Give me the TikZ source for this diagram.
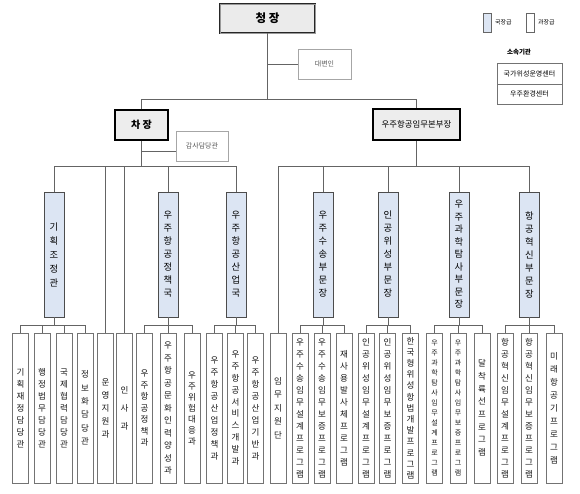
\documentclass[tikz,border=0pt]{standalone}
\usepackage{fontspec}
\setmainfont{Noto Sans CJK KR}
\usetikzlibrary{shadows}
\definecolor{barblue}{RGB}{220,229,243}
\definecolor{linegray}{RGB}{100,100,100}
\definecolor{boxgray}{RGB}{115,115,115}
\definecolor{txt}{RGB}{25,25,25}
\def\vstB#1#2\vstEnd{\hbox to 0pt{\hss#1\hss}\ifx\relax#2\relax\else\vstB#2\vstEnd\fi}
\newcommand\vst[2]{\vbox{\baselineskip=#1pt\lineskiplimit=-100pt\lineskip=0pt\vstB#2\vstEnd}}
\tikzset{
  ln/.style={draw=linegray, line width=0.7pt},
  shad/.style={drop shadow={shadow xshift=0.9pt, shadow yshift=-0.9pt, fill=black!40, opacity=1}},
  bar/.style={draw=black!70, fill=barblue, line width=0.7pt, minimum width=20pt, minimum height=125pt, inner sep=0pt, shad, font=\fontsize{9.3}{9.3}\selectfont, text=black},
  sub/.style={draw=boxgray, fill=white, line width=0.6pt, minimum width=16pt, minimum height=150pt, inner sep=0pt, shad, font=\fontsize{8.5}{8.5}\selectfont, text=txt},
  subs/.style={sub, font=\fontsize{7}{7}\selectfont},
  side/.style={draw=black!35, fill=white, line width=0.6pt, inner sep=0pt, text=black!65},
  head/.style={draw=black, fill=black!7, line width=1.3pt, inner sep=0pt, text=black},
}
\begin{document}
\begin{tikzpicture}[x=1pt, y=-1pt]
\useasboundingbox (0,0) rectangle (580,493);
% top level
\node[draw=black!85, fill=black!8, line width=0.9pt, double=black!40, double distance=0.8pt,
      minimum width=95pt, minimum height=29pt, inner sep=0pt, font=\fontsize{11.5}{11.5}\selectfont\bfseries] (ch) at (267.5,18.5) {청 장};
\node[side, minimum width=53pt, minimum height=30pt, font=\fontsize{7}{7}\selectfont] (dv) at (324.5,64) {대변인};
\node[head, minimum width=53pt, minimum height=30pt, font=\fontsize{10}{10}\selectfont\bfseries] (cj) at (141.5,125) {차 장};
\node[side, minimum width=52pt, minimum height=30pt, font=\fontsize{7}{7}\selectfont] (gs) at (202,146) {감사담당관};
\node[head, line width=1.1pt, minimum width=87pt, minimum height=31pt, font=\fontsize{8.4}{8.4}\selectfont] (hq) at (416.5,124.5) {우주항공임무본부장};
% legend
\node[draw=black!60, fill=barblue, line width=0.5pt, minimum width=8pt, minimum height=19pt, inner sep=0pt] (lg1) at (487,22.5) {};
\node[anchor=west, inner sep=0pt, font=\fontsize{6}{6}\selectfont] (lg1t) at (495,22.5) {국장급};
\node[draw=black!60, fill=white, line width=0.5pt, minimum width=8pt, minimum height=19pt, inner sep=0pt] (lg2) at (530,22.5) {};
\node[anchor=west, inner sep=0pt, font=\fontsize{6}{6}\selectfont] (lg2t) at (538,22.5) {과장급};
\node[inner sep=0pt, font=\fontsize{6.5}{6.5}\selectfont\bfseries] (sg) at (519,52) {소속기관};
\node[draw=black!55, line width=0.6pt, minimum width=65pt, minimum height=21pt, inner sep=0pt, font=\fontsize{7}{7}\selectfont] (o1) at (529.5,73.5) {국가위성운영센터};
\node[draw=black!55, line width=0.6pt, minimum width=65pt, minimum height=20pt, inner sep=0pt, font=\fontsize{7}{7}\selectfont] (o2) at (529.5,94) {우주환경센터};
% bars
\node[bar] (b1) at (54,254.5) {\vst{14}{기획조정관}};
\node[bar] (b2) at (168,254.5) {\vst{13}{우주항공정책국}};
\node[bar] (b3) at (236,254.5) {\vst{13}{우주항공산업국}};
\node[bar] (b4) at (323,254.5) {\vst{13}{우주수송부문장}};
\node[bar] (b5) at (388,254.5) {\vst{13}{인공위성부문장}};
\node[bar] (b6) at (459,254.5) {\vst{12.5}{우주과학탐사부문장}};
\node[bar] (b7) at (529.5,254.5) {\vst{13}{항공혁신부문장}};
% bottom boxes
\node[sub] (s1) at (20.5,408) {\vst{12}{기획재정담당관}};
\node[sub] (s2) at (42,408) {\vst{12}{행정법무담당관}};
\node[sub] (s3) at (64,408) {\vst{12}{국제협력담당관}};
\node[sub] (s4) at (85,408) {\vst{13.4}{정보화담당관}};
\node[sub] (s5) at (105.5,408) {\vst{13}{운영지원과}};
\node[sub] (s6) at (124.5,408) {\vst{18}{인사과}};
\node[sub] (s7) at (144.5,408) {\vst{11.5}{우주항공정책과}};
\node[sub] (s8) at (168,408) {\vst{12.5}{우주항공문화인력양성과}};
\node[sub] (s9) at (192,408) {\vst{11}{우주위험대응과}};
\node[sub] (s10) at (214.5,408) {\vst{12}{우주항공산업정책과}};
\node[sub] (s11) at (235.5,408) {\vst{11.9}{우주항공서비스개발과}};
\node[sub] (s12) at (255.5,408) {\vst{12}{우주항공산업기반과}};
\node[sub] (s13) at (278,408) {\vst{13.5}{임무지원단}};
\node[sub] (s14) at (300,408) {\vst{12}{우주수송임무설계프로그램}};
\node[sub] (s15) at (322,408) {\vst{12}{우주수송임무보증프로그램}};
\node[sub] (s16) at (344,408) {\vst{12}{재사용발사체프로그램}};
\node[sub] (s17) at (366,408) {\vst{12}{인공위성임무설계프로그램}};
\node[sub] (s18) at (387.5,408) {\vst{12}{인공위성임무보증프로그램}};
\node[sub] (s19) at (410.5,408) {\vst{11.2}{한국형위성항법개발프로그램}};
\node[subs] (s20) at (434.5,408) {\vst{10}{우주과학탐사임무설계프로그램}};
\node[subs] (s21) at (458,408) {\vst{10}{우주과학탐사임무보증프로그램}};
\node[sub] (s22) at (482,408) {\vst{12.7}{달착륙선프로그램}};
\node[sub] (s23) at (505,408) {\vst{12}{항공혁신임무설계프로그램}};
\node[sub] (s24) at (529,408) {\vst{12}{항공혁신임무보증프로그램}};
\node[sub] (s25) at (554,408) {\vst{13}{미래항공기프로그램}};
% bus coordinates
\coordinate (tb) at (0,99);
\coordinate (gb) at (0,151);
\coordinate (mb) at (0,166);
\coordinate (sb) at (0,325);
% top connectors
\draw[ln] (ch.south) -- (ch.south |- tb);
\draw[ln] (ch.south |- dv.west) -- (dv.west);
\draw[ln] (cj.north) -- (cj.north |- tb) -- (hq.north |- tb) -- (hq.north);
\draw[ln] (cj.south) -- (cj.south |- mb);
\draw[ln] (cj.south |- gb) -- (gs.west |- gb);
\draw[ln] (hq.south) -- (hq.south |- mb);
% deputy bus
\draw[ln] (b1.north) -- (b1.north |- mb) -- (b3.north |- mb) -- (b3.north);
\draw[ln] (b2.north) -- (b2.north |- mb);
\draw[ln] (s5.north) -- (s5.north |- mb);
\draw[ln] (s6.north) -- (s6.north |- mb);
% mission HQ bus
\draw[ln] (s13.north) -- (s13.north |- mb) -- (b7.north |- mb) -- (b7.north);
\draw[ln] (b4.north) -- (b4.north |- mb);
\draw[ln] (b5.north) -- (b5.north |- mb);
\draw[ln] (b6.north) -- (b6.north |- mb);
% sub buses
\foreach \b/\f/\m/\l in {b1/s1/s2/s4, b2/s7/s8/s9, b3/s10/s11/s12, b4/s14/s15/s16, b5/s17/s18/s19, b6/s20/s21/s22, b7/s23/s24/s25}{
  \draw[ln] (\b.south) -- (\b.south |- sb);
  \draw[ln] (\f.north) -- (\f.north |- sb) -- (\l.north |- sb) -- (\l.north);
  \draw[ln] (\m.north) -- (\m.north |- sb);
}
\draw[ln] (s3.north) -- (s3.north |- sb);
\end{tikzpicture}
\end{document}
